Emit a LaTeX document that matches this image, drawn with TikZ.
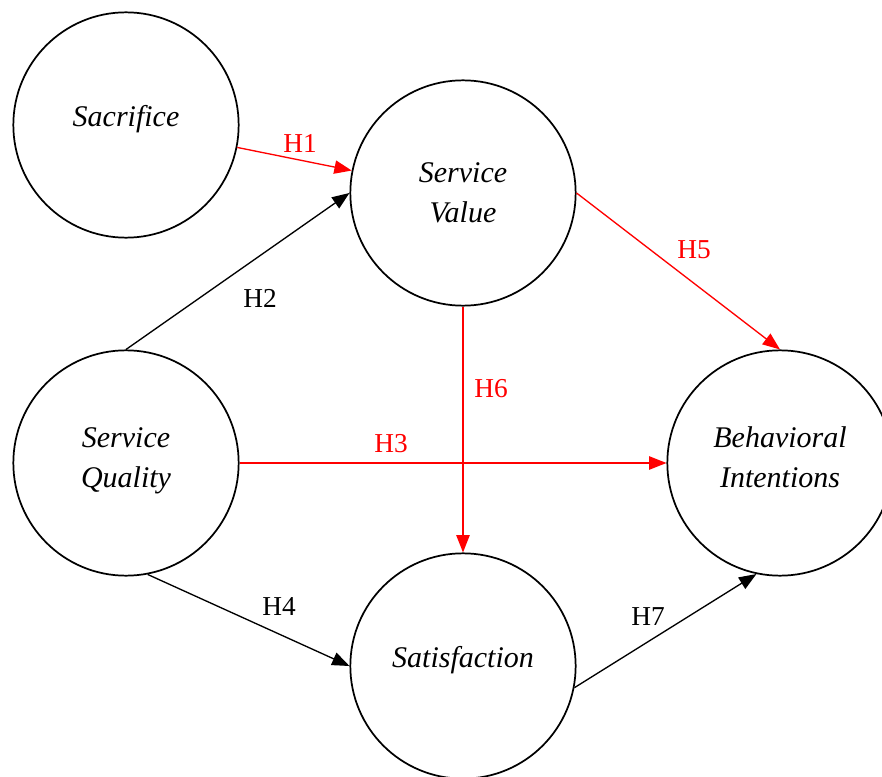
\documentclass[tikz,border=0pt]{standalone}
\usepackage{fontspec}
\setmainfont{Liberation Serif}
\usetikzlibrary{arrows.meta}
\tikzset{
  con/.style={circle, draw, line width=1.3pt, minimum size=169pt, inner sep=0pt, align=center,
    text depth=1pt, font=\fontsize{22.5}{30}\selectfont\itshape},
  con1/.style={con, text depth=13pt},
  hyp/.style={-{Triangle[length=13pt,width=10pt]}, line width=1pt},
  rhyp/.style={hyp, red},
  hlab/.style={font=\fontsize{20.5}{24}\selectfont, inner sep=0pt}
}

\begin{document}
\begin{tikzpicture}[x=0.75pt, y=-0.75pt]
		\useasboundingbox (0,0) rectangle (882,777);
		\node[con1] (sac) at (126,125) {Sacrifice};
		\node[con] (sv) at (463,193) {Service\\Value};
		\node[con, text depth=8.5pt] (sq) at (126,463) {Service\\Quality};
		\node[con, text depth=8.5pt] (bi) at (780,463) {Behavioral\\Intentions};
		\node[con1] (sat) at (463,666) {Satisfaction};
		\draw[rhyp] (sac) -- (sv);
		\draw[hyp] (sq.north) -- (sv.west);
		\draw[rhyp] (sq) -- (bi);
		\draw[hyp] (sq.-79.5) -- (sat.west);
		\draw[rhyp] (sv.east) -- (bi.north);
		\draw[rhyp] (sv.south) -- (sat.north);
		\draw[hyp] (sat.-11.5) -- (bi.-102);
		\node[hlab, red] (h1) at (300,143) {H1};
		\node[hlab] (h2) at (260,298) {H2};
		\node[hlab, red] (h3) at (391,444) {H3};
		\node[hlab] (h4) at (279,607) {H4};
		\node[hlab, red] (h5) at (694,250) {H5};
		\node[hlab, red] (h6) at (491,389) {H6};
		\node[hlab] (h7) at (648,617) {H7};
	\end{tikzpicture}
\end{document}
